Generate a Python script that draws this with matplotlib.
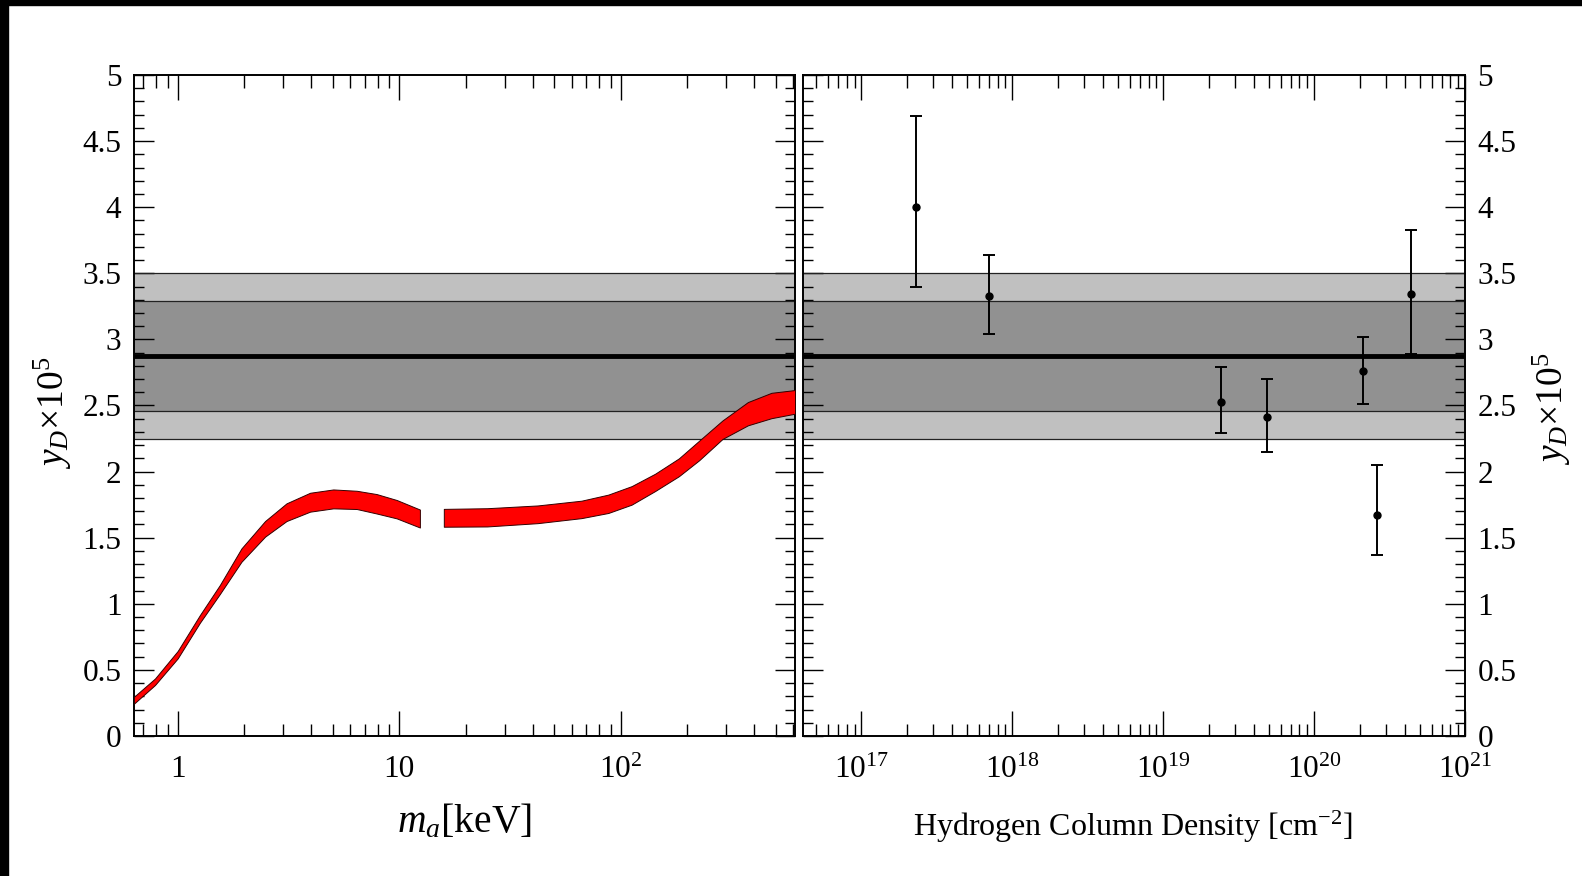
import numpy as np
import matplotlib
matplotlib.use('Agg')
import matplotlib.pyplot as plt
from matplotlib.ticker import FixedLocator, LogLocator, MultipleLocator, NullFormatter
from matplotlib.patches import Rectangle

plt.rcParams['font.family'] = ['Liberation Serif', 'DejaVu Serif']
plt.rcParams['mathtext.fontset'] = 'custom'
plt.rcParams['mathtext.rm'] = 'Liberation Serif'
plt.rcParams['mathtext.it'] = 'Liberation Serif:italic'

# red band, left segment (m_a in keV, upper/lower y_D x 10^5)
ma_lo = [0.635, 0.79, 1.0, 1.26, 1.55, 1.94, 2.48, 3.10, 3.96, 5.04, 6.43, 7.91, 9.75, 12.4]
band_lo_top = [0.297, 0.435, 0.643, 0.915, 1.142, 1.419, 1.626, 1.76, 1.84, 1.865, 1.855, 1.83, 1.785, 1.713]
band_lo_bot = [0.245, 0.386, 0.587, 0.857, 1.074, 1.318, 1.508, 1.626, 1.697, 1.722, 1.717, 1.683, 1.646, 1.577]

# red band, right segment
ma_hi = [15.9, 24.9, 42.2, 66.5, 87.9, 112, 143, 183, 226, 288, 375, 479, 612]
band_hi_top = [1.718, 1.723, 1.744, 1.78, 1.826, 1.89, 1.984, 2.10, 2.234, 2.387, 2.526, 2.596, 2.617]
band_hi_bot = [1.583, 1.585, 1.61, 1.648, 1.687, 1.75, 1.853, 1.965, 2.086, 2.247, 2.35, 2.404, 2.438]

# horizontal reference: central value and 1/2 sigma bands
yD_mean = 2.875
band1 = (2.455, 3.29)
band2 = (2.245, 3.5)

# measurements vs hydrogen column density
nh = [2.3e17, 7.0e17, 2.4e19, 4.9e19, 2.1e20, 2.6e20, 4.4e20]
yd = [4.0, 3.33, 2.53, 2.41, 2.76, 1.67, 3.34]
yd_top = [4.69, 3.64, 2.79, 2.70, 3.02, 2.05, 3.83]
yd_bot = [3.40, 3.04, 2.29, 2.15, 2.51, 1.37, 2.89]

ma_ticks = [1, 10, 100]
ma_ticklabels = ['1', '10', r'$10^{2}$']
nh_ticks = [1e17, 1e18, 1e19, 1e20, 1e21]
nh_ticklabels = [r'$10^{17}$', r'$10^{18}$', r'$10^{19}$', r'$10^{20}$', r'$10^{21}$']
y_ticks = np.arange(0, 5.01, 0.5)
y_ticklabels = ['0', '0.5', '1', '1.5', '2', '2.5', '3', '3.5', '4', '4.5', '5']

W, H = 1582, 876
fig = plt.figure(figsize=(W / 100, H / 100), dpi=100)
fig.patches.append(Rectangle((0, 1 - 5 / H), 1, 5 / H, transform=fig.transFigure,
                             color='black', zorder=10))
fig.patches.append(Rectangle((0, 0), 8 / W, 1, transform=fig.transFigure,
                             color='black', zorder=10))

ax1 = fig.add_axes([134 / W, (H - 736) / H, 661 / W, 661 / H])
ax2 = fig.add_axes([803 / W, (H - 736) / H, 662 / W, 661 / H])

for ax in (ax1, ax2):
    ax.axhspan(*band2, facecolor='#c0c0c0', edgecolor='none', zorder=1)
    ax.axhspan(*band1, facecolor='#919191', edgecolor='none', zorder=1)
    for v in list(band1) + list(band2):
        ax.axhline(v, color='#222222', lw=0.9, zorder=2)
    ax.axhline(yD_mean, color='black', lw=3.5, zorder=3)
    ax.set_xscale('log')
    ax.set_ylim(0, 5)
    ax.yaxis.set_major_locator(FixedLocator(y_ticks))
    ax.yaxis.set_minor_locator(MultipleLocator(0.1))
    ax.tick_params(which='both', direction='in', top=True, bottom=True, left=True, right=True,
                   width=1.0, labelsize=22.5, pad=9)
    ax.tick_params(axis='x', which='major', length=18, pad=14)
    ax.tick_params(axis='x', which='minor', length=9)
    ax.tick_params(axis='y', which='major', length=14.5)
    ax.tick_params(axis='y', which='minor', length=7.2)
    for s in ax.spines.values():
        s.set_linewidth(1.4)

# left panel
ax1.fill_between(ma_lo, band_lo_bot, band_lo_top, facecolor='red', edgecolor='#330000',
                 lw=0.7, zorder=4)
ax1.fill_between(ma_hi, band_hi_bot, band_hi_top, facecolor='red', edgecolor='#330000',
                 lw=0.7, zorder=4)
ax1.set_xlim(0.635, 612)
ax1.xaxis.set_major_locator(FixedLocator(ma_ticks))
ax1.set_xticklabels(ma_ticklabels)
ax1.xaxis.set_minor_locator(LogLocator(base=10, subs=np.arange(2, 10), numticks=20))
ax1.xaxis.set_minor_formatter(NullFormatter())
ax1.set_yticklabels(y_ticklabels)

# right panel
err = [np.array(yd) - np.array(yd_bot), np.array(yd_top) - np.array(yd)]
ax2.errorbar(nh, yd, yerr=err, fmt='o', color='black', ms=5, capsize=4.5, elinewidth=1.4,
             capthick=1.4, zorder=5)
ax2.set_xlim(4.1e16, 1e21)
ax2.xaxis.set_major_locator(FixedLocator(nh_ticks))
ax2.set_xticklabels(nh_ticklabels)
ax2.xaxis.set_minor_locator(LogLocator(base=10, subs=np.arange(2, 10), numticks=20))
ax2.xaxis.set_minor_formatter(NullFormatter())
ax2.yaxis.tick_right()
ax2.tick_params(which='both', left=True, right=True)
ax2.set_yticklabels(y_ticklabels)

fig.text(464 / W, 1 - 822 / H, r'$m_a$[keV]', ha='center', va='center', fontsize=28.5)
fig.text(1133 / W, 1 - 827 / H, r'Hydrogen Column Density [cm$^{-2}$]', ha='center',
         va='center', fontsize=23)
fig.text(53 / W, 1 - 413 / H, r'$y_D$$\times$$10^5$', ha='center', va='center',
         rotation=90, fontsize=27)
fig.text(1552 / W, 1 - 409 / H, r'$y_D$$\times$$10^5$', ha='center', va='center',
         rotation=90, fontsize=27)

fig.savefig('out.png', dpi=100)
